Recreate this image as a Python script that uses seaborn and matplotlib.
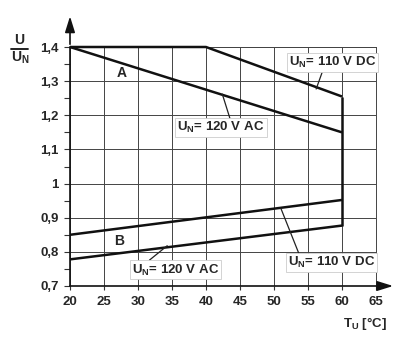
import matplotlib
matplotlib.use("Agg")
import matplotlib.pyplot as plt
import seaborn as sns
import pandas as pd

# ---- data ----
t_a_dc = [20, 40, 60]
u_a_dc = [1.40, 1.40, 1.255]
t_a_ac = [20, 60]
u_a_ac = [1.40, 1.15]
t_b_dc = [20, 60]
u_b_dc = [0.85, 0.952]
t_b_ac = [20, 60]
u_b_ac = [0.778, 0.877]
t_edge = [60, 60]
u_edge = [1.255, 0.877]

x_ticks = [20, 25, 30, 35, 40, 45, 50, 55, 60, 65]
y_ticks = [0.7, 0.8, 0.9, 1.0, 1.1, 1.2, 1.3, 1.4]
y_tick_labels = ["0,7", "0,8", "0,9", "1", "1,1", "1,2", "1,3", "1,4"]

sns.set_theme(style="white")
plt.rcParams["font.family"] = ["Liberation Sans", "DejaVu Sans"]
plt.rcParams["font.weight"] = "bold"
plt.rcParams["mathtext.fontset"] = "custom"
plt.rcParams["mathtext.rm"] = "Liberation Sans:bold"
plt.rcParams["mathtext.bf"] = "Liberation Sans:bold"
plt.rcParams["mathtext.it"] = "Liberation Sans:bold"
plt.rcParams["mathtext.default"] = "rm"

fig = plt.figure(figsize=(4.08, 3.51), dpi=100)
ax = fig.add_axes([70 / 408, 65 / 351, 306 / 408, 239 / 351])

series = [
    ("A DC", t_a_dc, u_a_dc),
    ("A AC", t_a_ac, u_a_ac),
    ("B DC", t_b_dc, u_b_dc),
    ("B AC", t_b_ac, u_b_ac),
    ("edge", t_edge, u_edge),
]
for name, t, u in series:
    df = pd.DataFrame({"T": t, "U": u})
    sns.lineplot(data=df, x="T", y="U", ax=ax, color="#111111", linewidth=1.8,
                 sort=False, estimator=None, zorder=3)
for ln in ax.lines:
    ln.set_clip_on(False)
    ln.set_solid_capstyle("butt")

ax.set_xlim(20, 65)
ax.set_ylim(0.7, 1.4)
ax.set_xticks(x_ticks)
ax.set_xticklabels([str(v) for v in x_ticks], fontsize=9.5, fontweight="bold")
ax.set_yticks(y_ticks)
ax.set_yticklabels(y_tick_labels, fontsize=9.5, fontweight="bold")
ax.set_yticks([0.75, 0.85, 0.95, 1.05, 1.15, 1.25, 1.35], minor=True)
ax.tick_params(axis="y", which="both", direction="out", length=4, width=0.8,
               color="#333333", left=True, pad=4)
ax.tick_params(axis="x", which="major", direction="out", length=3, width=0.8,
               color="#333333", bottom=True, pad=4)
ax.set_xlabel("")
ax.set_ylabel("")
ax.grid(True, which="major", color="#444444", linewidth=0.7)

for s in ["top", "right"]:
    ax.spines[s].set_color("#444444")
    ax.spines[s].set_linewidth(0.7)
for s in ["left", "bottom"]:
    ax.spines[s].set_color("#111111")
    ax.spines[s].set_linewidth(1.2)

# axis arrows
ax.annotate("", xy=(0, 1.14), xytext=(0, 1.0), xycoords="axes fraction",
            arrowprops=dict(arrowstyle="-|>,head_length=0.8,head_width=0.25",
                            color="#111111", lw=1.2), annotation_clip=False)
ax.annotate("", xy=(1.065, 0), xytext=(1.0, 0), xycoords="axes fraction",
            arrowprops=dict(arrowstyle="-|>,head_length=0.8,head_width=0.25",
                            color="#111111", lw=1.2), annotation_clip=False)

# curve labels
ax.text(27.6, 1.324, "A", fontsize=10, fontweight="bold", ha="center", va="center")
ax.text(27.2, 0.833, "B", fontsize=10, fontweight="bold", ha="center", va="center")

box = dict(boxstyle="square,pad=0.15", facecolor="white", edgecolor="#cccccc", linewidth=0.6)


def arr(rx, ry):
    return dict(arrowstyle="-", color="#222222", lw=0.9, shrinkA=0, shrinkB=0,
                relpos=(rx, ry))


ax.annotate("U$_{N}$= 110 V DC", xy=(56.2, 1.277), xytext=(58.6, 1.354),
            ha="center", va="center", fontsize=9.5, fontweight="bold",
            bbox=box, arrowprops=arr(0.39, 0.0), zorder=5)
ax.annotate("U$_{N}$= 120 V AC", xy=(42.4, 1.262), xytext=(42.2, 1.163),
            ha="center", va="center", fontsize=9.5, fontweight="bold",
            bbox=box, arrowprops=arr(0.61, 1.0), zorder=5)
ax.annotate("U$_{N}$= 120 V AC", xy=(34.3, 0.818), xytext=(35.5, 0.747),
            ha="center", va="center", fontsize=9.5, fontweight="bold",
            bbox=box, arrowprops=arr(0.17, 1.0), zorder=5)
ax.annotate("U$_{N}$= 110 V DC", xy=(51.0, 0.928), xytext=(58.5, 0.768),
            ha="center", va="center", fontsize=9.5, fontweight="bold",
            bbox=box, arrowprops=arr(0.13, 1.0), zorder=5)

# axis titles: U over U_N as a fraction
fig.text(19 / 408, 1 - 40 / 351, "U", fontsize=10, fontweight="bold",
         ha="center", va="center")
fig.add_artist(plt.Line2D([11 / 408, 28 / 408], [1 - 48.5 / 351, 1 - 48.5 / 351],
                          color="#111111", lw=1.3, transform=fig.transFigure))
fig.text(20 / 408, 1 - 58 / 351, "U$_{N}$", fontsize=10, fontweight="bold",
         ha="center", va="center")
fig.text(365 / 408, 1 - 323 / 351, "T$_{U}$ [°C]", fontsize=9.5, fontweight="bold",
         ha="center", va="center")

fig.savefig("out.png", dpi=100)
